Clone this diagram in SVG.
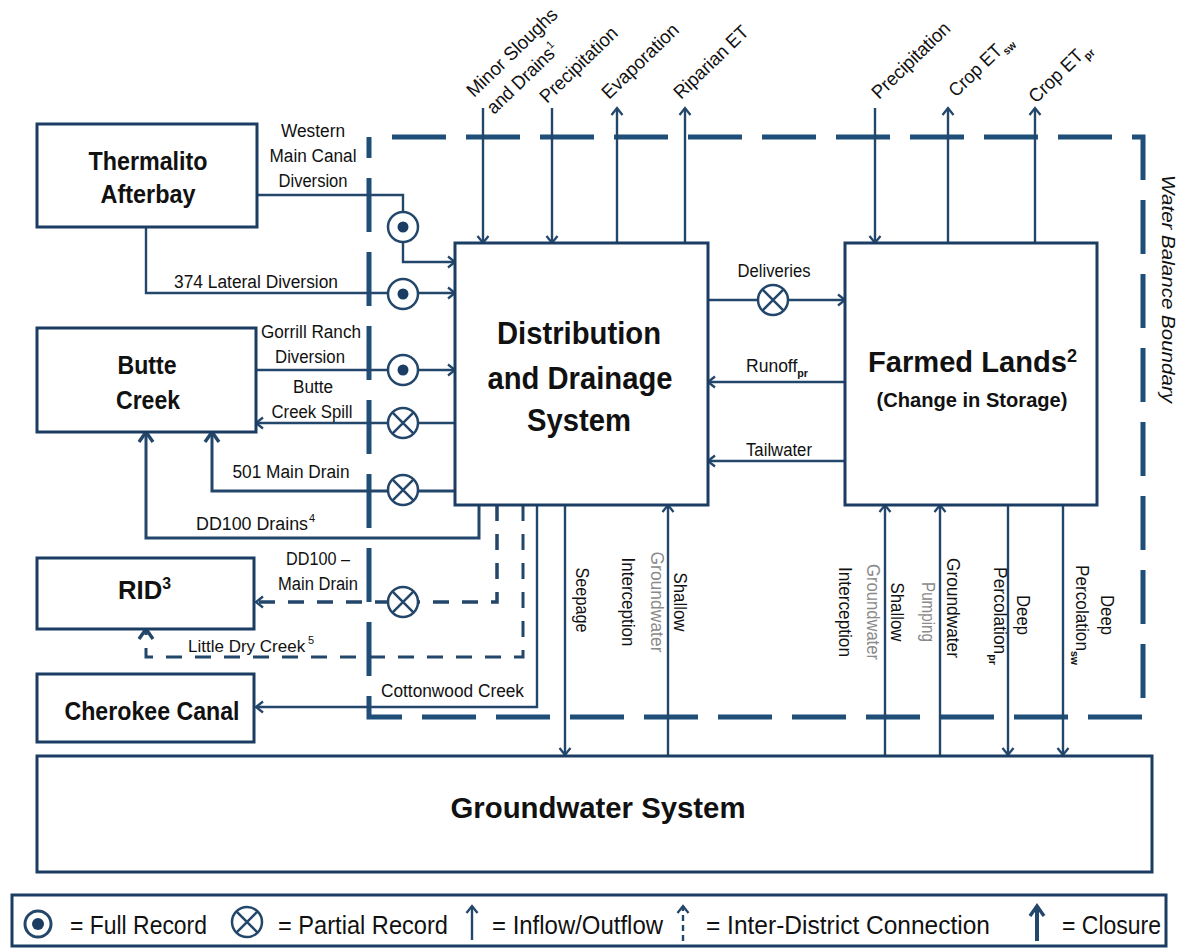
<svg xmlns="http://www.w3.org/2000/svg" width="1178" height="949" viewBox="0 0 1178 949">
<style>
.box{fill:#fff;stroke:#1c3d63;stroke-width:3}
.ln{fill:none;stroke:#23466b;stroke-width:2.4}
.cl{fill:none;stroke:#23466b;stroke-width:3}
.dl{fill:none;stroke:#23466b;stroke-width:3.5;stroke-dasharray:16 13}
.bd{fill:none;stroke:#1f4e79;stroke-width:5;stroke-dasharray:54 20}
.t{font-family:"Liberation Sans Narrow","Liberation Sans",Arial,sans-serif;font-size:18px;fill:#111}
.s{font-family:"Liberation Sans",Arial,sans-serif;font-size:11px;fill:#111}
.b{font-family:"Liberation Sans",Arial,sans-serif;font-weight:bold;fill:#111}
.g{fill:#8a8a8a}
.m{text-anchor:middle}
</style>
<defs>
<marker id="ah" markerWidth="14" markerHeight="14" refX="10" refY="7" orient="auto" markerUnits="userSpaceOnUse"><path d="M3,1.5 L10,7 L3,12.5" fill="none" stroke="#23466b" stroke-width="2.3"/></marker>
<marker id="ac" markerWidth="18" markerHeight="18" refX="13" refY="9" orient="auto" markerUnits="userSpaceOnUse"><path d="M3,2 L13,9 L3,16" fill="none" stroke="#23466b" stroke-width="3.4"/></marker>
<g id="full"><circle r="15" fill="#fff" stroke="#23466b" stroke-width="2.5"/><circle r="5.5" fill="#1c3d63"/></g>
<g id="part"><circle r="15" fill="#fff" stroke="#23466b" stroke-width="2.5"/><path d="M-10.6,-10.6 L10.6,10.6 M-10.6,10.6 L10.6,-10.6" stroke="#23466b" stroke-width="2.5"/></g>
</defs>

<g id="boundary">
<path class="bd" d="M392,137 H1143 V717 H369 V137"/>
<text class="t" style="font-style:italic;font-size:19px" text-anchor="middle" textLength="228" lengthAdjust="spacingAndGlyphs" transform="translate(1162,289) rotate(90)">Water Balance Boundary</text>
</g>

<g id="connectors">
<path class="ln" d="M483,108 V243" marker-end="url(#ah)"/>
<path class="ln" d="M552,108 V243" marker-end="url(#ah)"/>
<path class="ln" d="M617,243 V108" marker-end="url(#ah)"/>
<path class="ln" d="M685,243 V108" marker-end="url(#ah)"/>
<path class="ln" d="M875,108 V243" marker-end="url(#ah)"/>
<path class="ln" d="M948,243 V108" marker-end="url(#ah)"/>
<path class="ln" d="M1035,243 V108" marker-end="url(#ah)"/>
<path class="ln" d="M257,195 H403 V262 H455" marker-end="url(#ah)"/>
<path class="ln" d="M146,227 V293 H455" marker-end="url(#ah)"/>
<path class="ln" d="M256,370 H455" marker-end="url(#ah)"/>
<path class="ln" d="M455,423 H256" marker-end="url(#ah)"/>
<path class="cl" d="M455,491 H212 V432" marker-end="url(#ac)"/>
<path class="cl" d="M479,505 V538 H146 V432" marker-end="url(#ac)"/>
<path class="dl" d="M497,505 V602 H256" marker-end="url(#ah)"/>
<path class="dl" d="M523,505 V657 H146 V629" marker-end="url(#ac)" style="stroke-width:3"/>
<path class="ln" d="M537,505 V707 H256" marker-end="url(#ah)"/>
<path class="ln" d="M708,300 H845" marker-end="url(#ah)"/>
<path class="ln" d="M845,382 H708" marker-end="url(#ah)"/>
<path class="ln" d="M845,461 H708" marker-end="url(#ah)"/>
<path class="ln" d="M565,505 V755" marker-end="url(#ah)"/>
<path class="ln" d="M668,755 V505" marker-end="url(#ah)"/>
<path class="ln" d="M885,755 V505" marker-end="url(#ah)"/>
<path class="ln" d="M940,755 V505" marker-end="url(#ah)"/>
<path class="ln" d="M1008,505 V755" marker-end="url(#ah)"/>
<path class="ln" d="M1063,505 V755" marker-end="url(#ah)"/>
<use href="#full" x="403" y="227"/>
<use href="#full" x="403" y="294"/>
<use href="#full" x="403" y="370"/>
<use href="#part" x="403" y="423"/>
<use href="#part" x="403" y="490"/>
<use href="#part" x="403" y="602"/>
<use href="#part" x="773" y="300"/>
</g>

<g id="labels">
<text class="t" transform="translate(474,98) rotate(-44)" textLength="118" lengthAdjust="spacingAndGlyphs" style="font-size:19px">Minor Sloughs</text>
<text class="t" transform="translate(494,115) rotate(-44)" textLength="92" lengthAdjust="spacingAndGlyphs" style="font-size:19px">and Drains<tspan font-size="11" dy="-8">1</tspan></text>
<text class="t" transform="translate(547,104) rotate(-44)" textLength="100" lengthAdjust="spacingAndGlyphs" style="font-size:19px">Precipitation</text>
<text class="t" transform="translate(609,100) rotate(-44)" textLength="99" lengthAdjust="spacingAndGlyphs" style="font-size:19px">Evaporation</text>
<text class="t" transform="translate(681,100) rotate(-44)" textLength="96" lengthAdjust="spacingAndGlyphs" style="font-size:19px">Riparian ET</text>
<text class="t" transform="translate(879,100) rotate(-44)" textLength="101" lengthAdjust="spacingAndGlyphs" style="font-size:19px">Precipitation</text>
<text class="t" transform="translate(956,98) rotate(-44)" textLength="80" lengthAdjust="spacingAndGlyphs" style="font-size:19px">Crop ET<tspan font-size="11" dy="5" font-weight="bold">sw</tspan></text>
<text class="t" transform="translate(1036,104) rotate(-44)" textLength="78" lengthAdjust="spacingAndGlyphs" style="font-size:19px">Crop ET<tspan font-size="11" dy="5" font-weight="bold">pr</tspan></text>

<text class="t m" x="313" y="137" textLength="64" lengthAdjust="spacingAndGlyphs">Western</text>
<text class="t m" x="313" y="162" textLength="87" lengthAdjust="spacingAndGlyphs">Main Canal</text>
<text class="t m" x="313" y="187" textLength="69" lengthAdjust="spacingAndGlyphs">Diversion</text>
<text class="t m" x="256" y="288" textLength="164" lengthAdjust="spacingAndGlyphs">374 Lateral Diversion</text>
<text class="t m" x="311" y="338" textLength="100" lengthAdjust="spacingAndGlyphs">Gorrill Ranch</text>
<text class="t m" x="310" y="363" textLength="70" lengthAdjust="spacingAndGlyphs">Diversion</text>
<text class="t m" x="313" y="393" textLength="40" lengthAdjust="spacingAndGlyphs">Butte</text>
<text class="t m" x="312" y="418" textLength="81" lengthAdjust="spacingAndGlyphs">Creek Spill</text>
<text class="t m" x="291" y="478" textLength="117" lengthAdjust="spacingAndGlyphs">501 Main Drain</text>
<text class="t" x="196" y="530" textLength="112" lengthAdjust="spacingAndGlyphs">DD100 Drains</text>
<text class="s" x="309" y="522">4</text>
<text class="t m" x="318" y="565" textLength="64" lengthAdjust="spacingAndGlyphs">DD100 –</text>
<text class="t m" x="318" y="590" textLength="80" lengthAdjust="spacingAndGlyphs">Main Drain</text>
<text class="t" x="188" y="652" style="font-size:17px">Little Dry Creek</text>
<text class="s" x="308" y="644">5</text>
<text class="t" x="381" y="697" textLength="143" lengthAdjust="spacingAndGlyphs">Cottonwood Creek</text>

<text class="t m" x="774" y="277" textLength="73" lengthAdjust="spacingAndGlyphs">Deliveries</text>
<text class="t" x="746" y="372" textLength="62" lengthAdjust="spacingAndGlyphs">Runoff<tspan font-size="11" dy="5" font-weight="bold">pr</tspan></text>
<text class="t m" x="779" y="456" textLength="66" lengthAdjust="spacingAndGlyphs">Tailwater</text>

<text class="t m" transform="translate(576,600) rotate(90)" textLength="65" lengthAdjust="spacingAndGlyphs">Seepage</text>
<text class="t m" transform="translate(622,602) rotate(90)" textLength="89" lengthAdjust="spacingAndGlyphs">Interception</text>
<text class="t m g" transform="translate(651,602) rotate(90)" textLength="101" lengthAdjust="spacingAndGlyphs">Groundwater</text>
<text class="t m" transform="translate(674,602) rotate(90)" textLength="59" lengthAdjust="spacingAndGlyphs">Shallow</text>

<text class="t m" transform="translate(839,612) rotate(90)" textLength="90" lengthAdjust="spacingAndGlyphs">Interception</text>
<text class="t m g" transform="translate(867,612) rotate(90)" textLength="96" lengthAdjust="spacingAndGlyphs">Groundwater</text>
<text class="t m" transform="translate(891,612) rotate(90)" textLength="59" lengthAdjust="spacingAndGlyphs">Shallow</text>
<text class="t m g" transform="translate(922,612) rotate(90)" textLength="60" lengthAdjust="spacingAndGlyphs">Pumping</text>
<text class="t m" transform="translate(947,608) rotate(90)" textLength="100" lengthAdjust="spacingAndGlyphs">Groundwater</text>
<text class="t" transform="translate(994,567) rotate(90)" textLength="98" lengthAdjust="spacingAndGlyphs">Percolation<tspan font-size="11" dy="5" font-weight="bold">pr</tspan></text>
<text class="t m" transform="translate(1017,615) rotate(90)" textLength="40" lengthAdjust="spacingAndGlyphs">Deep</text>
<text class="t" transform="translate(1076,565) rotate(90)" textLength="100" lengthAdjust="spacingAndGlyphs">Percolation<tspan font-size="11" dy="5" font-weight="bold">sw</tspan></text>
<text class="t m" transform="translate(1101,615) rotate(90)" textLength="40" lengthAdjust="spacingAndGlyphs">Deep</text>
</g>

<g id="thermalito">
<rect class="box" x="37" y="124" width="220" height="103"/>
<text class="b m" x="148" y="170" font-size="26" textLength="119" lengthAdjust="spacingAndGlyphs">Thermalito</text>
<text class="b m" x="148" y="203" font-size="26" textLength="95" lengthAdjust="spacingAndGlyphs">Afterbay</text>
</g>
<g id="butte">
<rect class="box" x="37" y="328" width="219" height="104"/>
<text class="b m" x="147" y="374" font-size="26" textLength="59" lengthAdjust="spacingAndGlyphs">Butte</text>
<text class="b m" x="148" y="409" font-size="26" textLength="64" lengthAdjust="spacingAndGlyphs">Creek</text>
</g>
<g id="rid">
<rect class="box" x="37" y="558" width="217" height="71"/>
<text class="b" x="118" y="599" font-size="26" textLength="53" lengthAdjust="spacingAndGlyphs">RID<tspan font-size="16" dy="-10">3</tspan></text>
</g>
<g id="cherokee">
<rect class="box" x="37" y="674" width="217" height="68"/>
<text class="b m" x="152" y="720" font-size="26" textLength="175" lengthAdjust="spacingAndGlyphs">Cherokee Canal</text>
</g>
<g id="distribution">
<rect class="box" x="455" y="243" width="253" height="262"/>
<text class="b m" x="579" y="344" font-size="31" textLength="164" lengthAdjust="spacingAndGlyphs">Distribution</text>
<text class="b m" x="580" y="389" font-size="31" textLength="185" lengthAdjust="spacingAndGlyphs">and Drainage</text>
<text class="b m" x="579" y="431" font-size="31" textLength="104" lengthAdjust="spacingAndGlyphs">System</text>
</g>
<g id="farmed">
<rect class="box" x="845" y="243" width="252" height="262"/>
<text class="b" x="868" y="372" font-size="29" textLength="209" lengthAdjust="spacingAndGlyphs">Farmed Lands<tspan font-size="18" dy="-10">2</tspan></text>
<text class="b m" x="972" y="407" font-size="20" textLength="191" lengthAdjust="spacingAndGlyphs">(Change in Storage)</text>
</g>
<g id="groundwater">
<rect class="box" x="37" y="756" width="1115" height="116"/>
<text class="b m" x="598" y="818" font-size="29" textLength="295" lengthAdjust="spacingAndGlyphs">Groundwater System</text>
</g>

<g id="legend">
<rect class="box" x="12" y="895" width="1154" height="51"/>
<circle cx="38" cy="924" r="13" fill="#fff" stroke="#23466b" stroke-width="3"/>
<circle cx="38" cy="924" r="6" fill="#1c3d63"/>
<text class="t" x="70" y="934" style="font-size:26px" textLength="137" lengthAdjust="spacingAndGlyphs">= Full Record</text>
<use href="#part" x="247" y="922"/>
<text class="t" x="278" y="934" style="font-size:26px" textLength="170" lengthAdjust="spacingAndGlyphs">= Partial Record</text>
<path class="ln" d="M472,940 V906" marker-end="url(#ah)"/>
<text class="t" x="492" y="934" style="font-size:26px" textLength="171" lengthAdjust="spacingAndGlyphs">= Inflow/Outflow</text>
<path class="ln" d="M683,941 V906" style="stroke-dasharray:6 4" marker-end="url(#ah)"/>
<text class="t" x="706" y="934" style="font-size:26px" textLength="284" lengthAdjust="spacingAndGlyphs">= Inter-District Connection</text>
<path class="cl" d="M1037,941 V906" style="stroke-width:4" marker-end="url(#ac)"/>
<text class="t" x="1062" y="934" style="font-size:26px" textLength="99" lengthAdjust="spacingAndGlyphs">= Closure</text>
</g>
</svg>
